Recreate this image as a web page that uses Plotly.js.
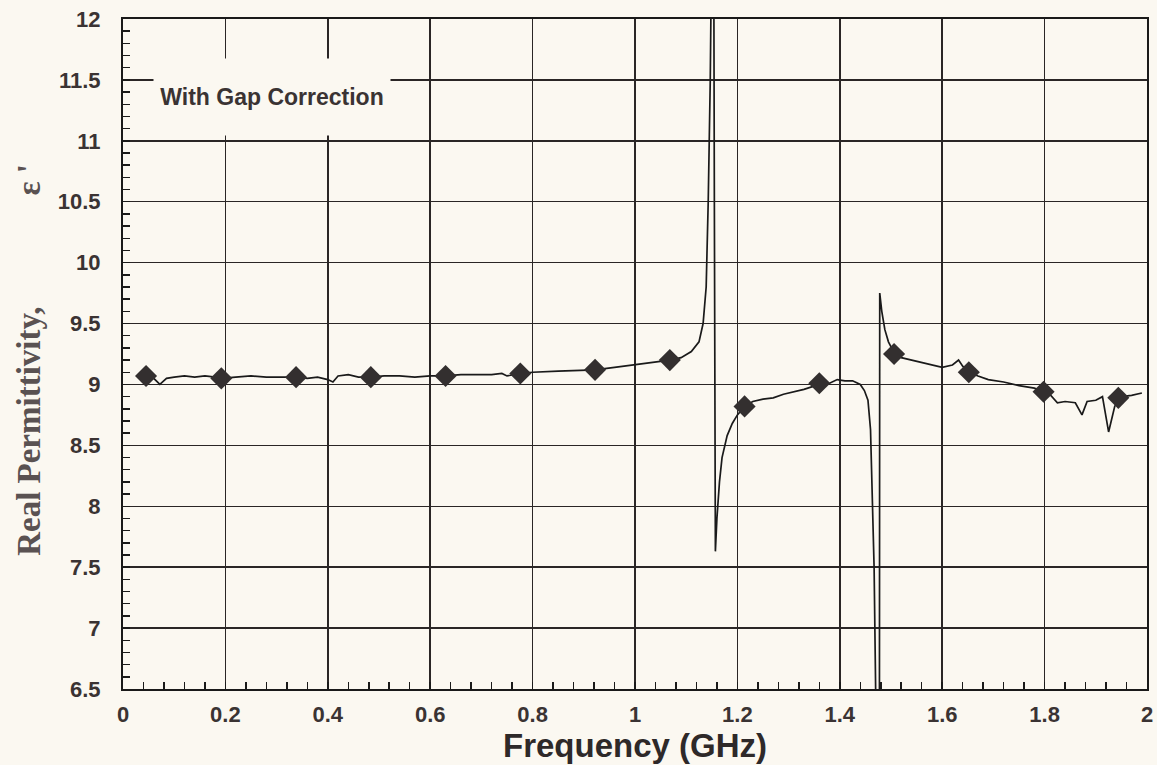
<!DOCTYPE html>
<html>
<head>
<meta charset="utf-8">
<script src="https://cdn.plot.ly/plotly-3.0.1.min.js"></script>
<style>
html,body{margin:0;padding:0;background:#fbf8f1;}
#chart{width:1157px;height:765px;}
</style>
</head>
<body>
<div id="chart"></div>
<script>
// Measured curve (frequency in GHz, real permittivity)
const curveFreq = [
  0.045,0.06,0.072,0.085,0.10,0.12,0.14,0.16,0.18,0.192,0.22,0.25,0.28,0.31,0.338,0.36,0.38,0.40,0.41,0.42,
  0.44,0.46,0.484,0.51,0.54,0.57,0.60,0.630,0.66,0.69,0.72,0.74,0.75,0.776,0.80,0.85,0.90,0.922,0.96,1.00,
  1.04,1.068,1.09,1.11,1.125,1.133,1.139,1.143,1.147,1.150,1.153,1.155,1.157,1.160,1.165,1.170,1.180,1.190,1.200,1.214,
  1.23,1.25,1.27,1.29,1.31,1.33,1.36,1.38,1.395,1.41,1.425,1.44,1.448,1.455,1.460,1.464,1.467,1.470,1.474,1.477,
  1.478,1.482,1.488,1.495,1.506,1.52,1.54,1.57,1.60,1.62,1.632,1.64,1.652,1.67,1.69,1.72,1.75,1.78,1.798,1.81,
  1.825,1.84,1.86,1.873,1.883,1.90,1.913,1.925,1.937,1.95,1.97,1.99
];
const curvePerm = [
  9.07,9.05,9.00,9.05,9.06,9.07,9.06,9.07,9.06,9.05,9.06,9.07,9.06,9.06,9.06,9.05,9.06,9.04,9.02,9.07,
  9.08,9.06,9.06,9.07,9.07,9.06,9.07,9.07,9.08,9.08,9.08,9.09,9.07,9.09,9.10,9.11,9.12,9.12,9.14,9.16,
  9.18,9.20,9.22,9.27,9.35,9.50,9.80,10.5,11.5,13.0,14.0,10.5,7.63,7.90,8.20,8.40,8.58,8.68,8.75,8.82,
  8.86,8.88,8.89,8.92,8.94,8.96,9.00,9.01,9.04,9.03,9.03,9.00,8.95,8.87,8.63,8.00,7.50,6.50,4.00,4.00,
  9.75,9.60,9.45,9.35,9.26,9.22,9.20,9.17,9.14,9.16,9.20,9.15,9.10,9.07,9.04,9.02,8.99,8.97,8.94,8.92,
  8.85,8.86,8.85,8.75,8.86,8.87,8.90,8.61,8.82,8.90,8.91,8.93
];
// Diamond markers
const markerFreq = [0.045,0.192,0.338,0.484,0.630,0.776,0.922,1.068,1.214,1.360,1.506,1.652,1.798,1.944];
const markerPerm = [9.07,9.05,9.06,9.06,9.07,9.09,9.12,9.20,8.82,9.01,9.25,9.10,8.94,8.89];

const xTicks = [0,0.2,0.4,0.6,0.8,1,1.2,1.4,1.6,1.8,2];
const xTickText = ['0','0.2','0.4','0.6','0.8','1','1.2','1.4','1.6','1.8','2'];
const yTicks = [6.5,7,7.5,8,8.5,9,9.5,10,10.5,11,11.5,12];
const yTickText = ['6.5','7','7.5','8','8.5','9','9.5','10','10.5','11','11.5','12'];

const bg = '#fbf8f1';
const sans = 'Liberation Sans, Arial, sans-serif';
const tickFont = {family:sans, size:22, color:'#3a3333', weight:'bold'};

const traces = [
  {x: curveFreq, y: curvePerm, mode:'lines', type:'scatter',
   line:{color:'#1a1a1a', width:1.7}, hoverinfo:'skip', showlegend:false},
  {x: markerFreq, y: markerPerm, mode:'markers', type:'scatter',
   marker:{symbol:'diamond', size:17, color:'#332f2f', line:{width:0}}, showlegend:false}
];

const layout = {
  width:1157, height:765,
  paper_bgcolor:bg, plot_bgcolor:bg,
  margin:{l:123, r:10, t:19, b:76},
  showlegend:false,
  xaxis:{
    range:[0,2], tickvals:xTicks, ticktext:xTickText,
    showgrid:true, gridcolor:'#2a2626', gridwidth:1.5,
    showline:true, linecolor:'#1a1a1a', linewidth:2, mirror:true,
    ticks:'inside', ticklen:7, tickcolor:'#1a1a1a', tickwidth:1.5,
    minor:{dtick:0.04, tick0:0, ticks:'inside', ticklen:7, tickcolor:'#1a1a1a', tickwidth:1.5, showgrid:false},
    tickfont:tickFont, ticklabelstandoff:5, zeroline:false,
    title:{text:'Frequency (GHz)', font:{family:sans, size:33, color:'#2e2929', weight:'bold'}, standoff:0}
  },
  yaxis:{
    range:[6.5,12], tickvals:yTicks, ticktext:yTickText,
    showgrid:true, gridcolor:'#2a2626', gridwidth:1.5,
    showline:true, linecolor:'#1a1a1a', linewidth:2, mirror:true,
    ticks:'inside', ticklen:7, tickcolor:'#1a1a1a', tickwidth:1.5,
    minor:{dtick:0.1, tick0:6.5, ticks:'inside', ticklen:7, tickcolor:'#1a1a1a', tickwidth:1.5, showgrid:false},
    tickfont:tickFont, ticklabelstandoff:16, zeroline:false
  },
  annotations:[
    {text:'<b>With Gap Correction</b>', xref:'x', yref:'y', x:0.291, y:11.36,
     showarrow:false, width:236, height:76, bgcolor:bg, borderpad:0,
     font:{family:sans, size:23, color:'#3a3333'}},
    {text:'<b>Real Permittivity,</b>', xref:'paper', yref:'paper',
     x:-0.092, y:0.385, xanchor:'center', yanchor:'middle', textangle:-90, showarrow:false,
     font:{family:'Liberation Serif, Times New Roman, serif', size:33, color:'#5a5252'}},
    {text:'<b>ε \'</b>', xref:'paper', yref:'paper',
     x:-0.092, y:0.76, xanchor:'center', yanchor:'middle', textangle:-90, showarrow:false,
     font:{family:'Liberation Serif, Times New Roman, serif', size:33, color:'#5a5252'}}
  ]
};

Plotly.newPlot('chart', traces, layout, {displayModeBar:false, staticPlot:true});
</script>
</body>
</html>
